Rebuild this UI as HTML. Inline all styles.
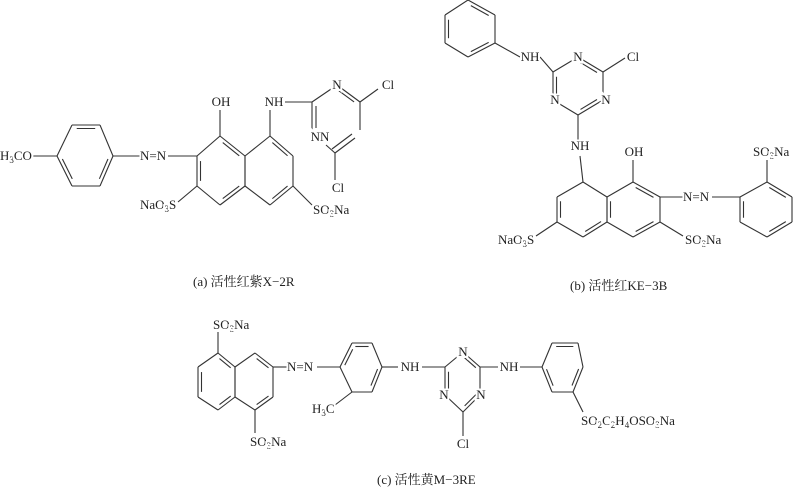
<!DOCTYPE html>
<html><head><meta charset="utf-8"><style>
html,body{margin:0;padding:0;background:#fff;}
svg{display:block;}
text{font-family:"Liberation Serif","Noto Serif CJK SC","Noto Sans CJK SC",serif;font-size:13px;fill:#222;}
.l{stroke:#fff;stroke-width:4;paint-order:stroke;}
.cap{font-size:13px;}
</style></head><body>
<svg id="s" width="800" height="487" viewBox="0 0 800 487" xmlns="http://www.w3.org/2000/svg">
<g id="b" stroke="#333" stroke-width="1.1" fill="none"></g>
<g id="t">
<!-- (a) -->
<text x="0" y="160" class="l">H<tspan font-size="9" dy="3">3</tspan><tspan dy="-3">CO</tspan></text>
<text x="140" y="160" class="l">N=N</text>
<text x="221" y="106" text-anchor="middle" class="l">OH</text>
<text x="274" y="106" text-anchor="middle" class="l">NH</text>
<text x="337" y="89" text-anchor="middle" class="l">N</text>
<text x="388" y="89" text-anchor="middle" class="l">Cl</text>
<text x="320" y="141" text-anchor="middle" class="l">NN</text>
<text x="338" y="192" text-anchor="middle" class="l">Cl</text>
<text x="140" y="209" class="l">NaO<tspan font-size="9" dy="3">3</tspan><tspan dy="-3">S</tspan></text>
<text x="313" y="214" class="l">SO<tspan font-size="9" dy="3">3</tspan><tspan dy="-3">Na</tspan></text>
<text x="193" y="286" class="cap">(a) 活性红紫X−2R</text>
<!-- (b) -->
<text x="530" y="61" text-anchor="middle" class="l">NH</text>
<text x="578" y="61" text-anchor="middle" class="l">N</text>
<text x="633" y="61" text-anchor="middle" class="l">Cl</text>
<text x="606" y="104" text-anchor="middle" class="l">N</text>
<text x="555" y="104" text-anchor="middle" class="l">N</text>
<text x="580" y="150" text-anchor="middle" class="l">NH</text>
<text x="634" y="156" text-anchor="middle" class="l">OH</text>
<text x="683" y="201" class="l">N=N</text>
<text x="498" y="244" class="l">NaO<tspan font-size="9" dy="3">3</tspan><tspan dy="-3">S</tspan></text>
<text x="685" y="244" class="l">SO<tspan font-size="9" dy="3">3</tspan><tspan dy="-3">Na</tspan></text>
<text x="753" y="156" class="l">SO<tspan font-size="9" dy="3">3</tspan><tspan dy="-3">Na</tspan></text>
<text x="570" y="290" class="cap">(b) 活性红KE−3B</text>
<!-- (c) -->
<text x="213" y="329" class="l">SO<tspan font-size="9" dy="3">3</tspan><tspan dy="-3">Na</tspan></text>
<text x="250" y="446" class="l">SO<tspan font-size="9" dy="3">3</tspan><tspan dy="-3">Na</tspan></text>
<text x="287" y="371" class="l">N=N</text>
<text x="312" y="413" class="l">H<tspan font-size="9" dy="3">3</tspan><tspan dy="-3">C</tspan></text>
<text x="410" y="371" text-anchor="middle" class="l">NH</text>
<text x="463" y="356" text-anchor="middle" class="l">N</text>
<text x="481" y="399" text-anchor="middle" class="l">N</text>
<text x="444" y="399" text-anchor="middle" class="l">N</text>
<text x="463" y="448" text-anchor="middle" class="l">Cl</text>
<text x="509" y="371" text-anchor="middle" class="l">NH</text>
<text x="581" y="425" class="l">SO<tspan font-size="9" dy="3">2</tspan><tspan dy="-3">C</tspan><tspan font-size="9" dy="3">2</tspan><tspan dy="-3">H</tspan><tspan font-size="9" dy="3">4</tspan><tspan dy="-3">OSO</tspan><tspan font-size="9" dy="3">3</tspan><tspan dy="-3">Na</tspan></text>
<text x="377" y="484" class="cap">(c) 活性黄M−3RE</text>
</g>
</svg>
<script>
var g=document.getElementById('b'),NS='http://www.w3.org/2000/svg';
function L(a,b,c,d){var e=document.createElementNS(NS,'line');e.setAttribute('x1',a);e.setAttribute('y1',b);e.setAttribute('x2',c);e.setAttribute('y2',d);g.appendChild(e);}
function inner(p,q,cx,cy,off){var mx=(p[0]+q[0])/2,my=(p[1]+q[1])/2,dx=cx-mx,dy=cy-my,n=Math.hypot(dx,dy);var ox=dx/n*off,oy=dy/n*off,t=0.17;
L(p[0]+(q[0]-p[0])*t+ox,p[1]+(q[1]-p[1])*t+oy,q[0]+(p[0]-q[0])*t+ox,q[1]+(p[1]-q[1])*t+oy);}
function R(pts,dbl){var cx=0,cy=0;pts.forEach(function(p){cx+=p[0];cy+=p[1];});cx/=pts.length;cy/=pts.length;
for(var i=0;i<pts.length;i++){var p=pts[i],q=pts[(i+1)%pts.length];L(p[0],p[1],q[0],q[1]);}
dbl.forEach(function(i){inner(pts[i],pts[(i+1)%pts.length],cx,cy,3.5);});}
// (a)
R([[57,156],[72,125],[100,125],[113,156],[100,186],[72,186]],[1,3,5]);
L(33,156,57,156);L(113,156,140,156);L(168,156,197,156);
R([[220,136],[245,156],[245,186],[220,205],[197,186],[197,156]],[0,2,4]);
R([[245,156],[270,136],[293,156],[293,186],[270,205],[245,186]],[1,3]);
L(220,136,220,110);L(270,136,270,110);
L(197,186,178,202);L(293,186,312,205);
L(285,102,312,102);L(312,102,337,85);L(337,85,360,102);inner([337,85],[360,102],337,110,3.5);
L(360,102,378,89);L(360,102,360,130);
L(312,102,312,130);L(316,106,316,128);
L(355,138,335,153);L(352,134,332,149);L(335,153,335,180);L(326,145,335,153);
// (b)
R([[445,15],[468,0],[495,15],[495,43],[468,57],[445,43]],[1,3,5]);
L(495,43,520,57);
R([[553,72],[578,57],[603,72],[603,100],[578,115],[553,100]],[]);
inner([578,57],[603,72],578,86,3.5);inner([603,100],[578,115],578,86,3.5);inner([553,100],[553,72],578,86,3.5);
L(540,57,553,72);L(603,72,625,58);L(578,115,578,142);L(580,156,583,182);
R([[583,182],[557,197],[557,222],[583,237],[607,222],[607,197]],[1,3]);
R([[607,197],[633,182],[660,197],[660,222],[633,237],[607,222]],[1,3,5]);
L(633,182,633,160);L(557,222,536,236);L(660,222,683,236);
L(660,197,683,197);L(712,197,740,197);
R([[740,197],[767,182],[792,197],[792,222],[767,237],[740,222]],[1,3,5]);
L(767,182,767,160);
// (c)
R([[218,353],[198,367],[198,397],[218,410],[235,397],[235,367]],[1,3]);
R([[235,367],[255,353],[273,367],[273,397],[255,410],[235,397]],[1,3]);
inner([235,367],[218,353],217,381,3.5);
L(218,353,218,332);L(255,410,255,433);L(273,367,287,367);L(317,367,340,367);
R([[340,367],[352,343],[372,343],[382,367],[372,392],[352,392]],[0,1,3]);
L(352,392,335,405);L(382,367,398,367);L(422,367,445,367);
R([[445,367],[463,352],[480,367],[480,395],[463,412],[445,395]],[]);
inner([463,352],[480,367],463,381,3.5);inner([445,395],[445,367],463,381,3.5);inner([480,395],[463,412],463,381,3.5);
L(463,412,463,436);L(480,367,498,367);L(520,367,542,367);
R([[542,367],[552,343],[578,343],[583,367],[573,392],[552,392]],[1,3,5]);
L(573,392,583,412);
</script>
</body></html>
